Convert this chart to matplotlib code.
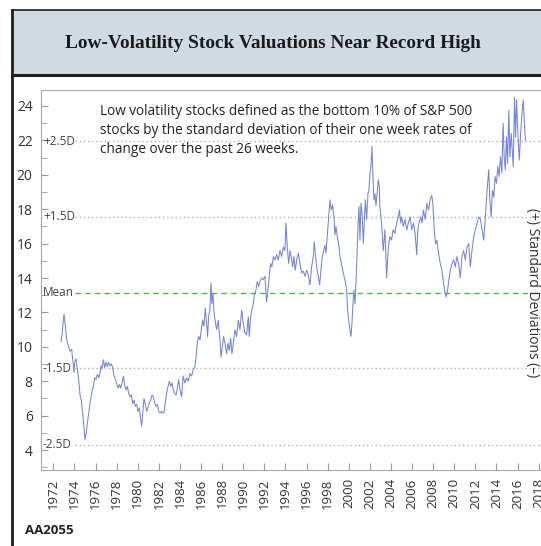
import matplotlib.pyplot as plt
from matplotlib.lines import Line2D
from matplotlib.patches import Rectangle
from matplotlib.ticker import MultipleLocator

# valuation series
years = [
    1972.73, 1972.82, 1973.01, 1973.14, 1973.26, 1973.42, 1973.58, 1973.74, 1973.83, 1973.96,
    1974.02, 1974.15, 1974.27, 1974.40, 1974.53, 1974.65, 1974.78, 1974.90, 1975.00, 1975.10,
    1975.22, 1975.35, 1975.48, 1975.63, 1975.79, 1975.92, 1976.04, 1976.17, 1976.30, 1976.42,
    1976.52, 1976.61, 1976.74, 1976.87, 1976.99, 1977.12, 1977.24, 1977.37, 1977.50, 1977.62,
    1977.75, 1977.88, 1978.00, 1978.13, 1978.26, 1978.38, 1978.51, 1978.64, 1978.76, 1978.89,
    1979.01, 1979.14, 1979.27, 1979.39, 1979.52, 1979.65, 1979.77, 1979.90, 1980.03, 1980.15,
    1980.28, 1980.37, 1980.47, 1980.59, 1980.72, 1980.85, 1980.97, 1981.10, 1981.23, 1981.35,
    1981.48, 1981.60, 1981.73, 1981.86, 1981.98, 1982.11, 1982.24, 1982.36, 1982.49, 1982.62,
    1982.74, 1982.87, 1983.00, 1983.12, 1983.25, 1983.37, 1983.50, 1983.63, 1983.75, 1983.88,
    1984.00, 1984.16, 1984.30, 1984.47, 1984.63, 1984.79, 1984.95, 1985.10, 1985.26, 1985.42,
    1985.52, 1985.64, 1985.77, 1985.90, 1986.02, 1986.15, 1986.27, 1986.40, 1986.53, 1986.62,
    1986.72, 1986.84, 1986.94, 1987.03, 1987.13, 1987.22, 1987.32, 1987.48, 1987.63, 1987.79,
    1987.89, 1988.01, 1988.14, 1988.27, 1988.42, 1988.55, 1988.68, 1988.80, 1988.93, 1989.06,
    1989.21, 1989.37, 1989.53, 1989.69, 1989.85, 1990.00, 1990.16, 1990.32, 1990.48, 1990.57,
    1990.70, 1990.82, 1990.95, 1991.08, 1991.20, 1991.33, 1991.46, 1991.58, 1991.74, 1991.90,
    1992.06, 1992.21, 1992.34, 1992.47, 1992.59, 1992.72, 1992.85, 1993.00, 1993.16, 1993.32,
    1993.48, 1993.64, 1993.79, 1993.95, 1994.05, 1994.17, 1994.30, 1994.43, 1994.55, 1994.68,
    1994.80, 1994.93, 1995.06, 1995.22, 1995.37, 1995.53, 1995.69, 1995.85, 1996.00, 1996.16,
    1996.32, 1996.48, 1996.64, 1996.73, 1996.83, 1996.95, 1997.11, 1997.24, 1997.36, 1997.49,
    1997.62, 1997.74, 1997.84, 1997.97, 1998.09, 1998.22, 1998.34, 1998.47, 1998.60, 1998.69,
    1998.79, 1998.91, 1999.04, 1999.17, 1999.29, 1999.42, 1999.55, 1999.67, 1999.80, 1999.89,
    1999.99, 2000.11, 2000.21, 2000.30, 2000.40, 2000.49, 2000.59, 2000.68, 2000.78, 2000.87,
    2000.97, 2001.06, 2001.16, 2001.28, 2001.38, 2001.47, 2001.57, 2001.69, 2001.82, 2001.91,
    2002.01, 2002.10, 2002.20, 2002.29, 2002.39, 2002.48, 2002.58, 2002.70, 2002.79, 2002.90,
    2002.95, 2003.11, 2003.27, 2003.43, 2003.59, 2003.75, 2003.90, 2004.06, 2004.20, 2004.38,
    2004.54, 2004.70, 2004.80, 2004.92, 2005.02, 2005.17, 2005.33, 2005.49, 2005.65, 2005.81,
    2005.97, 2006.13, 2006.29, 2006.44, 2006.54, 2006.70, 2006.83, 2006.95, 2007.08, 2007.24,
    2007.40, 2007.56, 2007.71, 2007.87, 2007.97, 2008.10, 2008.22, 2008.35, 2008.51, 2008.67,
    2008.83, 2008.98, 2009.14, 2009.24, 2009.37, 2009.49, 2009.62, 2009.78, 2009.94, 2010.10,
    2010.25, 2010.41, 2010.57, 2010.73, 2010.89, 2011.05, 2011.21, 2011.37, 2011.52, 2011.68,
    2011.84, 2012.00, 2012.16, 2012.32, 2012.48, 2012.63, 2012.79, 2012.95, 2013.11, 2013.27,
    2013.37, 2013.49, 2013.62, 2013.75, 2013.87, 2014.00, 2014.13, 2014.25, 2014.38, 2014.51,
    2014.63, 2014.73, 2014.83, 2014.95, 2015.05, 2015.17, 2015.27, 2015.40, 2015.49, 2015.59,
    2015.71, 2015.81, 2015.90, 2016.03, 2016.16, 2016.29, 2016.44, 2016.54, 2016.63, 2016.70,
    2016.76,
]
values = [
    10.3, 10.7, 11.9, 11.2, 10.45, 10.05, 9.75, 9.85, 9.3, 8.5,
    9.1, 9.3, 8.7, 8.1, 7.2, 6.9, 6.15, 5.35, 4.6, 4.9,
    5.55, 6.15, 6.75, 7.3, 7.7, 8.2, 8.1, 8.4, 8.2, 8.5,
    8.9, 8.7, 9.25, 8.8, 9.1, 8.85, 9.1, 8.9, 9.0, 8.8,
    8.3, 8.1, 7.9, 7.6, 7.8, 7.6, 7.9, 8.3, 7.8, 7.5,
    7.7, 7.3, 7.1, 7.2, 6.7, 6.9, 6.55, 6.65, 6.25, 6.45,
    5.75, 5.4, 6.15, 7.0, 6.65, 6.25, 6.45, 6.75, 6.9, 7.2,
    7.1, 6.75, 6.55, 6.65, 6.25, 6.15, 6.25, 6.15, 6.2, 6.75,
    7.3, 7.7, 8.0, 7.7, 7.9, 7.5, 7.3, 7.2, 7.6, 8.1,
    7.5, 7.1, 8.3, 7.9, 8.2, 8.0, 8.45, 8.3, 8.65, 8.85,
    9.4, 10.2, 10.6, 10.4, 11.0, 11.55, 11.2, 12.25, 11.35, 10.6,
    11.75, 12.15, 13.7, 12.5, 13.1, 12.05, 11.55, 11.0, 11.55, 10.4,
    9.4, 10.0, 10.6, 10.2, 9.6, 10.2, 9.8, 10.5, 9.6, 10.2,
    11.0, 10.6, 11.55, 11.0, 12.15, 11.35, 10.8, 10.7, 11.75, 10.6,
    11.75, 12.15, 12.5, 13.1, 13.3, 13.8, 13.5, 13.8, 14.0, 13.9,
    14.1, 12.6, 13.3, 14.1, 14.85, 14.65, 15.25, 15.05, 15.35, 15.05,
    15.6, 15.25, 15.8, 15.6, 17.2, 15.8, 14.85, 15.6, 15.25, 14.65,
    15.25, 14.45, 15.05, 15.45, 14.85, 14.3, 14.4, 14.1, 14.45, 14.2,
    13.6, 14.65, 15.25, 16.1, 15.45, 14.65, 14.1, 13.6, 14.45, 15.25,
    15.6, 15.9, 15.45, 16.5, 17.4, 18.55, 17.95, 18.25, 17.55, 16.5,
    17.0, 16.4, 16.0, 15.25, 14.85, 14.45, 14.1, 13.8, 13.3, 12.15,
    11.55, 11.0, 10.6, 11.35, 12.5, 13.3, 12.5, 13.7, 15.25, 17.0,
    18.15, 16.2, 18.35, 17.55, 16.0, 17.2, 18.55, 17.4, 18.9, 19.1,
    20.1, 20.5, 21.65, 19.9, 18.55, 18.9, 18.2, 19.0, 19.7, 19.3,
    18.15, 17.2, 15.6, 16.8, 14.0, 15.8, 16.4, 16.2, 16.8, 16.6,
    17.2, 17.55, 17.95, 17.2, 17.55, 17.0, 17.4, 16.8, 17.2, 17.55,
    16.8, 17.2, 16.6, 15.35, 16.8, 17.3, 17.55, 17.2, 17.95, 17.4,
    18.35, 17.95, 18.55, 18.8, 18.35, 16.8, 16.0, 16.2, 15.45, 14.85,
    14.45, 13.7, 13.1, 12.9, 13.3, 13.9, 14.45, 14.85, 15.05, 14.65,
    15.25, 14.85, 14.0, 15.25, 15.6, 15.05, 15.8, 16.0, 14.65, 15.6,
    16.4, 16.8, 17.2, 17.55, 17.4, 16.8, 16.2, 17.55, 19.1, 20.3,
    18.55, 17.55, 19.1, 18.7, 19.9, 19.5, 20.5, 19.9, 21.05, 20.1,
    23.0, 21.05, 20.3, 22.2, 20.65, 23.75, 21.05, 22.4, 21.45, 20.45,
    24.5, 22.2, 24.35, 22.4, 20.85, 22.4, 23.75, 24.35, 23.2, 22.4,
    22.0,
]

# reference levels
ref_labels = ["+2.5D", "+1.5D", "Mean", "-1.5D", "-2.5D"]
ref_levels = [21.95, 17.55, 13.15, 8.75, 4.3]

xticks = list(range(1972, 2019, 2))

note = ("Low volatility stocks defined as the bottom 10% of S&P 500\n"
        "stocks by the standard deviation of their one week rates of\n"
        "change over the past 26 weeks.")

plt.rcParams["font.family"] = ["Open Sans", "DejaVu Sans"]

W, H = 541, 546
fig = plt.figure(figsize=(W / 100, H / 100), dpi=100)

# title banner
fig.patches.append(Rectangle((12 / W, 1 - 76 / H), 1.0, 66 / H, transform=fig.transFigure,
                             facecolor="#cfdae3", edgecolor="none", zorder=0))
fig.lines.append(Line2D([12 / W, 1], [1 - 10 / H] * 2, transform=fig.transFigure,
                        color="#1e1e1e", lw=1.2))
fig.lines.append(Line2D([12 / W, 1], [1 - 75 / H] * 2, transform=fig.transFigure,
                        color="#1e1e1e", lw=2.2))
fig.lines.append(Line2D([12 / W] * 2, [0, 1 - 10 / H], transform=fig.transFigure,
                        color="#1e1e1e", lw=2.0))
fig.text(273 / W, 1 - 44 / H, "Low-Volatility Stock Valuations Near Record High",
         ha="center", va="center", fontsize=13.9, fontweight="bold",
         family="Liberation Serif", color="#1a1a1a")

ax = fig.add_axes([41 / W, 76 / H, 504 / W, 380 / H])
ax.set_xlim(1970.83, 2018.6)
ax.set_ylim(2.84, 24.93)

for lab, lev in zip(ref_labels, ref_levels):
    if lab == "Mean":
        ax.axhline(lev, xmin=0.068, color="#4cb84c", lw=1.0, ls=(0, (4, 3)))
    else:
        ax.axhline(lev, xmin=0.068, color="#b0b0b0", lw=1.0, ls=(0, (1, 2)))
    ax.text(0.004, lev, lab, transform=ax.get_yaxis_transform(), ha="left",
            va="center", fontsize=8.5, color="#444444")

ax.plot(years, values, color="#7384da", lw=0.75)

ax.set_xticks(xticks)
ax.set_xticklabels([str(y) for y in xticks], rotation=90, fontsize=9.5, color="#333333")
ax.yaxis.set_major_locator(MultipleLocator(2))
ax.yaxis.set_minor_locator(MultipleLocator(1))
ax.tick_params(axis="y", which="major", direction="in", length=5, labelsize=10,
               colors="#999999", labelcolor="#333333", pad=6)
ax.tick_params(axis="y", which="minor", direction="in", length=4, colors="#999999")
ax.tick_params(axis="x", direction="in", length=5, colors="#999999",
               labelcolor="#333333", pad=6)
for s in ax.spines.values():
    s.set_color("#aaaaaa")
    s.set_linewidth(0.8)

ax.text(100 / W, 1 - 104 / H, note, transform=fig.transFigure, ha="left", va="top",
        fontsize=9.8, color="#222222", linespacing=1.38)

fig.text(533 / W, 1 - 293 / H, "(+) Standard Deviations (\u2013)", rotation=270,
         ha="center", va="center", fontsize=10, color="#333333")

fig.text(25 / W, 1 - 530 / H, "AA2055", ha="left", va="center", fontsize=9.5,
         fontweight="bold", color="#222222")

fig.savefig("out.png", dpi=100)
